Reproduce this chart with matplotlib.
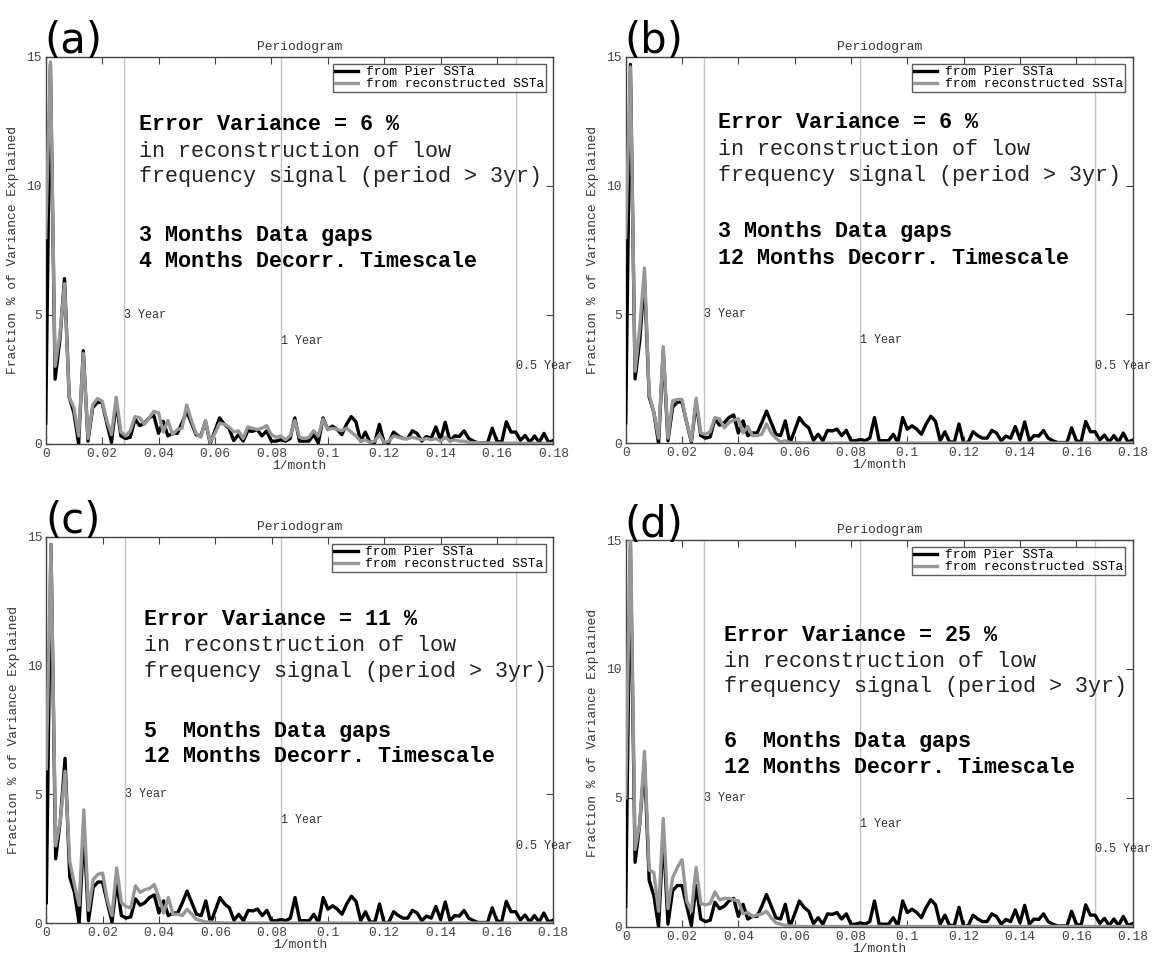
import numpy as np
import matplotlib
matplotlib.use('Agg')
import matplotlib.pyplot as plt

plt.rcParams['font.family'] = ['Liberation Mono', 'DejaVu Sans Mono']

# frequency grid: k / 600 (1/month), k = 0..108
N_FREQ = 109
DF = 1.0 / 600

# periodogram of the pier SSTa (same in all panels)
pier = [0.8, 14.7, 2.5, 4.0, 6.4, 1.8, 1.2, 0.0, 3.6, 0.1,
        1.4, 1.6, 1.6, 0.8, 0.05, 1.6, 0.3, 0.2, 0.25, 0.95,
        0.7, 0.8, 1.0, 1.1, 0.4, 0.87, 0.3, 0.4, 0.4, 0.8,
        1.25, 0.8, 0.35, 0.3, 0.87, 0.0, 0.5, 1.0, 0.75, 0.6,
        0.12, 0.35, 0.1, 0.5, 0.48, 0.55, 0.3, 0.5, 0.1, 0.1,
        0.15, 0.1, 0.2, 1.0, 0.1, 0.1, 0.1, 0.35, 0.03, 1.0,
        0.55, 0.68, 0.55, 0.35, 0.75, 1.05, 0.85, 0.1, 0.45, 0.05,
        0.05, 0.75, 0.0, 0.05, 0.45, 0.3, 0.2, 0.2, 0.5, 0.4,
        0.1, 0.28, 0.2, 0.65, 0.15, 0.83, 0.1, 0.3, 0.28, 0.5,
        0.2, 0.1, 0.03, 0.03, 0.03, 0.6, 0.1, 0.05, 0.85, 0.45,
        0.45, 0.13, 0.32, 0.05, 0.3, 0.05, 0.4, 0.05, 0.12]

# periodograms of the reconstructed SSTa
recon_a = [8.0, 14.8, 3.0, 4.2, 6.2, 1.8, 1.4, 0.3, 3.5, 0.2,
           1.5, 1.75, 1.65, 0.9, 0.35, 1.8, 0.45, 0.3, 0.5, 1.05,
           1.0, 0.75, 1.0, 1.25, 1.2, 0.45, 0.9, 0.35, 0.55, 0.6,
           1.5, 0.9, 0.4, 0.25, 0.9, 0.05, 0.4, 0.8, 0.75, 0.65,
           0.45, 0.5, 0.2, 0.65, 0.6, 0.55, 0.6, 0.7, 0.35, 0.25,
           0.3, 0.15, 0.3, 0.9, 0.25, 0.2, 0.25, 0.5, 0.3, 0.95,
           0.55, 0.6, 0.55, 0.5, 0.6, 0.45, 0.3, 0.1, 0.15, 0.05,
           0.1, 0.35, 0.05, 0.1, 0.3, 0.25, 0.2, 0.2, 0.25, 0.2,
           0.15, 0.2, 0.15, 0.2, 0.1, 0.25, 0.1, 0.15, 0.1, 0.1,
           0.05, 0.04, 0.04, 0.03, 0.03, 0.03, 0.02, 0.02, 0.02, 0.02,
           0.02, 0.01, 0.01, 0.01, 0.01, 0.01, 0.01, 0.01, 0.01]

recon_b = [8.0, 14.6, 2.8, 4.5, 6.8, 1.9, 1.2, 0.2, 3.75, 0.2,
           1.65, 1.7, 1.7, 0.8, 0.1, 1.75, 0.4, 0.35, 0.45, 1.0,
           0.95, 0.6, 0.8, 0.9, 0.95, 0.4, 0.65, 0.3, 0.3, 0.35,
           0.75, 0.4, 0.2, 0.05, 0.1, 0.03, 0.02, 0.02, 0.01, 0.01] + [0.01] * 69

recon_c = [6.0, 14.7, 3.0, 4.0, 5.9, 2.4, 1.5, 0.7, 4.4, 0.5,
           1.7, 1.9, 1.95, 0.9, 0.3, 2.15, 0.8, 0.65, 0.6, 1.45,
           1.2, 1.3, 1.35, 1.5, 1.0, 0.4, 1.0, 0.35, 0.35, 0.3,
           0.55, 0.35, 0.15, 0.1, 0.05, 0.05, 0.02, 0.02, 0.01, 0.01] + [0.01] * 69

recon_d = [5.0, 15.6, 3.0, 4.0, 6.8, 2.2, 2.1, 0.6, 4.2, 0.7,
           1.9, 2.3, 2.6, 1.0, 0.6, 2.3, 0.9, 0.85, 0.9, 1.35,
           1.05, 1.1, 1.1, 1.05, 1.0, 0.5, 0.55, 0.4, 0.45, 0.5,
           0.6, 0.35, 0.15, 0.1, 0.05, 0.03, 0.02, 0.01, 0.01, 0.01] + [0.01] * 69

panel_names = ['(a)', '(b)', '(c)', '(d)']
error_var = [6, 6, 11, 25]
gap_text = ['3 Months Data gaps', '3 Months Data gaps',
            '5  Months Data gaps', '6  Months Data gaps']
decorr_text = ['4 Months Decorr. Timescale', '12 Months Decorr. Timescale',
               '12 Months Decorr. Timescale', '12 Months Decorr. Timescale']
recon_all = [recon_a, recon_b, recon_c, recon_d]

xticks = [0, 0.02, 0.04, 0.06, 0.08, 0.1, 0.12, 0.14, 0.16, 0.18]
xtick_labels = ['0', '0.02', '0.04', '0.06', '0.08', '0.1', '0.12', '0.14', '0.16', '0.18']
yticks = [0, 5, 10, 15]

period_lines = [1 / 36, 1 / 12, 1 / 6]
period_labels = ['3 Year', '1 Year', '0.5 Year']
period_label_y = [5, 4, 3]

# axes rectangles in figure fraction
rects = [[0.0396, 0.5354, 0.4399, 0.4052],
         [0.5422, 0.5358, 0.4393, 0.4048],
         [0.0401, 0.0332, 0.4393, 0.4048],
         [0.5422, 0.0296, 0.4393, 0.4049]]
text_x = [0.183, 0.183, 0.193, 0.193]
text_y = [[0.824, 0.754, 0.690, 0.537, 0.472],
          [0.829, 0.759, 0.694, 0.547, 0.479],
          [0.785, 0.718, 0.651, 0.496, 0.431],
          [0.754, 0.685, 0.620, 0.478, 0.413]]

SMALL = 9.3
BIG = 15.7

fig = plt.figure(figsize=(11.54, 9.55), dpi=100)
freq = np.arange(N_FREQ) * DF

for i in range(4):
    ax = fig.add_axes(rects[i])
    for xv in period_lines:
        ax.axvline(xv, color='#c4c4c4', lw=1.0, zorder=1)
    ax.plot(freq, pier, color='black', lw=2.4, label='from Pier SSTa', zorder=3)
    ax.plot(freq, recon_all[i], color='#979797', lw=2.4,
            label='from reconstructed SSTa', zorder=4)
    for xv, lab, yv in zip(period_lines, period_labels, period_label_y):
        ax.text(xv, yv, lab, fontsize=8.5, color='#333333', ha='left',
                va='center', clip_on=False, zorder=5)

    ax.set_xlim(0, 0.18)
    ax.set_ylim(0, 15)
    ax.set_xticks(xticks)
    ax.set_xticklabels(xtick_labels)
    ax.set_yticks(yticks)
    ax.tick_params(direction='in', top=True, right=True, length=5,
                   width=0.8, labelsize=SMALL, colors='#444444', pad=3)
    for s in ax.spines.values():
        s.set_color('#444444')
        s.set_linewidth(1.0)

    ax.set_title('Periodogram', fontsize=SMALL, color='#333333', pad=5)
    ax.set_xlabel('1/month', fontsize=SMALL, color='#333333', labelpad=0)
    ax.set_ylabel('Fraction % of Variance Explained', fontsize=SMALL,
                  color='#333333', labelpad=5)

    leg = ax.legend(loc='upper right', bbox_to_anchor=(0.985, 0.981),
                    fontsize=SMALL, frameon=True, fancybox=False,
                    handlelength=1.8, handletextpad=0.6, labelspacing=0.0,
                    borderpad=0.15, borderaxespad=0.0)
    leg.get_frame().set_edgecolor('#333333')
    leg.get_frame().set_linewidth(1.0)

    tx = text_x[i]
    ty = text_y[i]
    ax.text(tx, ty[0], 'Error Variance = %d %%' % error_var[i],
            transform=ax.transAxes, fontsize=BIG, fontweight='bold', va='center')
    ax.text(tx, ty[1], 'in reconstruction of low',
            transform=ax.transAxes, fontsize=BIG, va='center', color='#222222')
    ax.text(tx, ty[2], 'frequency signal (period > 3yr)',
            transform=ax.transAxes, fontsize=BIG, va='center', color='#222222')
    ax.text(tx, ty[3], gap_text[i],
            transform=ax.transAxes, fontsize=BIG, fontweight='bold', va='center')
    ax.text(tx, ty[4], decorr_text[i],
            transform=ax.transAxes, fontsize=BIG, fontweight='bold', va='center')

    # panel letter
    fig.text(rects[i][0] - 0.001, rects[i][1] + rects[i][3] - 0.006,
             panel_names[i], fontsize=30, family='DejaVu Sans',
             ha='left', va='bottom')

fig.savefig('out.png', dpi=100)
